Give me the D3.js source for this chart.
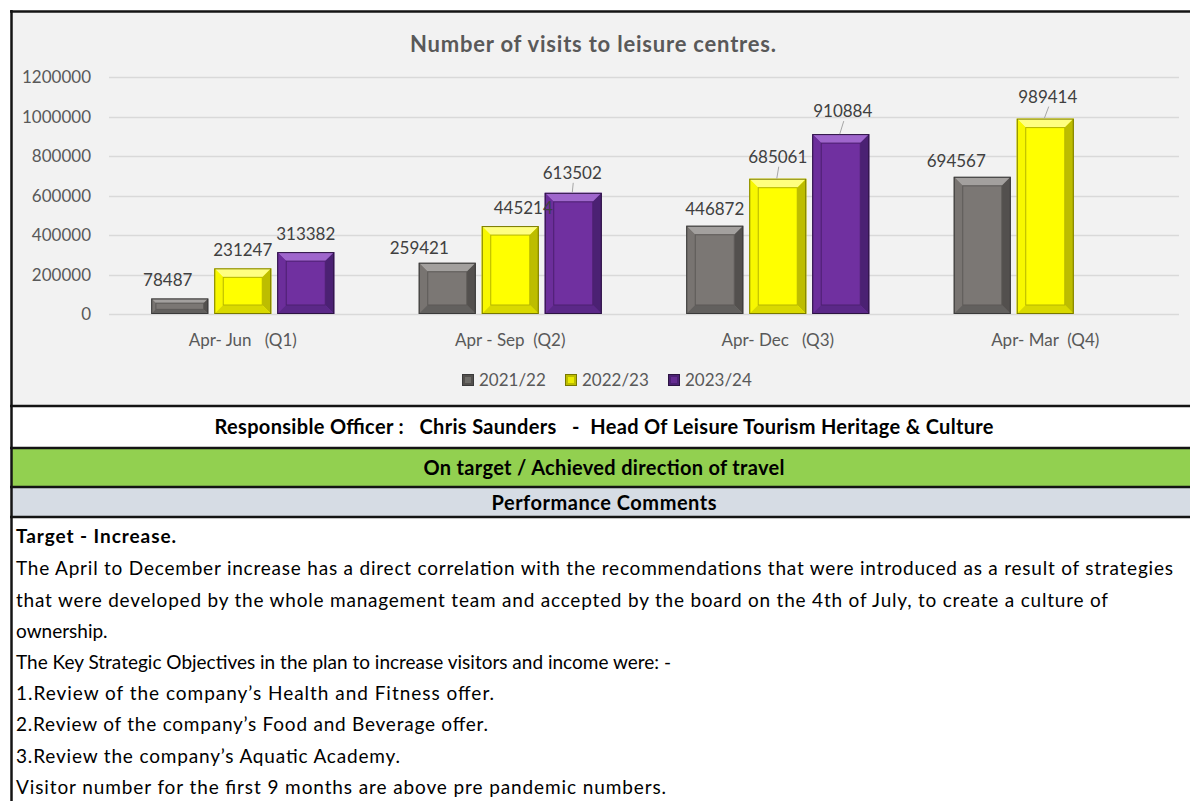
<!DOCTYPE html>
<html>
<head>
<meta charset="utf-8">
<script src="https://cdn.jsdelivr.net/npm/d3@7/dist/d3.min.js"></script>
<style>
  html, body { margin: 0; padding: 0; background: #ffffff; }
  svg { display: block; }
  text { font-family: Lato, "Noto Sans", sans-serif; white-space: pre; }
</style>
</head>
<body>
<svg id="chart" width="1190" height="801"></svg>
<script>
// ---------- data ----------
const title = "Number of visits to leisure centres.";
const categories = ["Apr- Jun   (Q1)", "Apr - Sep  (Q2)", "Apr- Dec   (Q3)", "Apr- Mar  (Q4)"];
const seriesNames = ["2021/22", "2022/23", "2023/24"];
const visits2021_22 = [78487, 259421, 446872, 694567];
const visits2022_23 = [231247, 445214, 685061, 989414];
const visits2023_24 = [313382, 613502, 910884, null];
const yTickValues = [0, 200000, 400000, 600000, 800000, 1000000, 1200000];

const officerText = "Responsible Officer :   Chris Saunders   -  Head Of Leisure Tourism Heritage & Culture";
const statusText = "On target / Achieved direction of travel";
const commentsHeader = "Performance Comments";
const commentLines = [
  "Target - Increase.",
  "The April to December increase has a direct correlation with the recommendations that were introduced as a result of strategies",
  "that were developed by the whole management team and accepted by the board on the 4th of July, to create a culture of",
  "ownership.",
  "The Key Strategic Objectives in the plan to increase visitors and income were: -",
  "1.Review of the company\u2019s Health and Fitness offer.",
  "2.Review of the company\u2019s Food and Beverage offer.",
  "3.Review the company\u2019s Aquatic Academy.",
  "Visitor number for the first 9 months are above pre pandemic numbers."
];

// ---------- styles / layout (not data) ----------
const seriesStyle = [
  {face:"#7b7774", light:"#a3a09e", left:"#787471", right:"#53504e", bottom:"#62605e", inner:"#5c5957", outline:"#3a3a3a"},
  {face:"#ffff00", light:"#ffff80", left:"#f8f800", right:"#bdbd00", bottom:"#d9d900", inner:"#b5b500", outline:"#787800"},
  {face:"#7030a0", light:"#9f66cc", left:"#6c2e9b", right:"#4b2173", bottom:"#5b2888", inner:"#4c2070", outline:"#2c1442"}
];
// manual label nudges [series][category] => [dx, dy, leader]
const labelNudge = [
  [[-12, 0, false], [-28, 3, false], [0, 1, false], [-26, 2, false]],
  [[0, 0, false], [13, 0, false], [0, -4, true], [2.5, -4, true]],
  [[0, 0, false], [-1, -2, true], [2, -5, true], [0, 0, false]]
];
const commentWidths = [160, 1157, 1092, 80, 639, 478, 472, 384, 650];

const svg = d3.select("#chart");
const W = 1190, H = 801;

// ---------- backgrounds ----------
svg.append("rect").attr("x", 12).attr("y", 12).attr("width", W - 12).attr("height", 394).attr("fill", "#f2f2f2");
svg.append("rect").attr("x", 12).attr("y", 406).attr("width", W - 12).attr("height", 42).attr("fill", "#ffffff");
svg.append("rect").attr("x", 12).attr("y", 448).attr("width", W - 12).attr("height", 39).attr("fill", "#92d050");
svg.append("rect").attr("x", 12).attr("y", 487).attr("width", W - 12).attr("height", 30).attr("fill", "#d6dce4");

// ---------- scales ----------
const plotLeft = 109, plotRight = 1179, plotTop = 77, plotBottom = 314;
const y = d3.scaleLinear().domain([0, 1200000]).range([plotBottom, plotTop]);
const x0 = d3.scaleBand().domain(categories).range([plotLeft, plotRight]).padding(0);
const x1 = d3.scaleBand().domain(seriesNames).range([42.25, 225.25]).paddingInner(0.095).paddingOuter(0);

// gridlines
svg.append("g").selectAll("line").data(yTickValues).join("line")
  .attr("x1", plotLeft).attr("x2", plotRight)
  .attr("y1", d => Math.round(y(d)) + 0.5).attr("y2", d => Math.round(y(d)) + 0.5)
  .attr("stroke", "#d9d9d9").attr("stroke-width", 1.3);

// y axis labels
const yAxis = d3.axisLeft(y).tickValues(yTickValues).tickSize(0).tickPadding(0).tickFormat(d3.format("d"));
const yG = svg.append("g").attr("transform", "translate(91,0)").call(yAxis);
yG.select(".domain").remove();
yG.selectAll("text").attr("fill", "#595959").attr("font-size", 17).attr("font-family", "Lato, sans-serif").attr("dy", "0.35em");

// x axis labels
const xAxis = d3.axisBottom(x0).tickSize(0).tickPadding(0);
const xG = svg.append("g").attr("transform", "translate(0,334)").call(xAxis);
xG.select(".domain").remove();
xG.selectAll("text").attr("fill", "#595959").attr("font-size", 17).attr("font-family", "Lato, sans-serif")
  .attr("dy", "0.71em").style("white-space", "pre");

// ---------- bars ----------
const allSeries = [visits2021_22, visits2022_23, visits2023_24];
const barData = [];
allSeries.forEach((vals, si) => {
  vals.forEach((v, ci) => {
    if (v == null) return;
    barData.push({si, ci, v, cat: categories[ci], ser: seriesNames[si]});
  });
});

const barsG = svg.append("g");
barData.forEach(d => {
  const st = seriesStyle[d.si];
  const bx = x0(d.cat) + x1(d.ser);
  const bw = x1.bandwidth();
  const by = y(d.v);
  const bh = y(0) - y(d.v);
  const b = Math.min(9, bh * 0.3);
  const g = barsG.append("g");
  const P = pts => pts.map(p => p.join(",")).join(" ");
  g.append("rect").attr("x", bx).attr("y", by).attr("width", bw).attr("height", bh).attr("fill", st.face);
  g.append("polygon").attr("points", P([[bx, by], [bx + bw, by], [bx + bw - b, by + b], [bx + b, by + b]])).attr("fill", st.light);
  g.append("polygon").attr("points", P([[bx, by], [bx + b, by + b], [bx + b, by + bh - b], [bx, by + bh]])).attr("fill", st.left);
  g.append("polygon").attr("points", P([[bx + bw, by], [bx + bw, by + bh], [bx + bw - b, by + bh - b], [bx + bw - b, by + b]])).attr("fill", st.right);
  g.append("polygon").attr("points", P([[bx, by + bh], [bx + b, by + bh - b], [bx + bw - b, by + bh - b], [bx + bw, by + bh]])).attr("fill", st.bottom);
  if (bh - 2 * b > 1) {
    g.append("rect").attr("x", bx + b).attr("y", by + b).attr("width", bw - 2 * b).attr("height", bh - 2 * b)
      .attr("fill", st.face).attr("stroke", st.inner).attr("stroke-width", 1);
  }
  g.append("rect").attr("x", bx + 0.5).attr("y", by + 0.5).attr("width", bw - 1).attr("height", bh - 1)
    .attr("fill", "none").attr("stroke", st.outline).attr("stroke-width", 1);

  // data label
  const nd = labelNudge[d.si][d.ci];
  const lx = bx + bw / 2 + nd[0];
  const lcy = by - 18 + nd[1];
  svg.append("text").attr("x", lx).attr("y", lcy).attr("dy", "0.35em").attr("text-anchor", "middle")
    .attr("font-size", 17).attr("fill", "#404040").text(d.v);
  if (nd[2]) {
    svg.append("line").attr("x1", lx + 1).attr("y1", lcy + 10).attr("x2", bx + bw / 2 - 1).attr("y2", by)
      .attr("stroke", "#a6a6a6").attr("stroke-width", 1);
  }
});

// ---------- title ----------
svg.append("text").attr("x", 593).attr("y", 44).attr("dy", "0.35em").attr("text-anchor", "middle")
  .attr("font-size", 22).attr("font-weight", "bold").attr("fill", "#595959")
  .attr("textLength", 366).attr("lengthAdjust", "spacing").text(title);

// ---------- legend ----------
const legendX = [462, 565, 668];
const legend = svg.append("g");
seriesNames.forEach((s, i) => {
  const st = seriesStyle[i];
  legend.append("rect").attr("x", legendX[i] + 0.5).attr("y", 374.5).attr("width", 11).attr("height", 11)
    .attr("fill", st.right).attr("stroke", st.outline).attr("stroke-width", 1);
  legend.append("rect").attr("x", legendX[i] + 3).attr("y", 377).attr("width", 6).attr("height", 6).attr("fill", st.face).attr("opacity", 0.7);
  legend.append("text").attr("x", legendX[i] + 17).attr("y", 380).attr("dy", "0.35em")
    .attr("font-size", 17).attr("fill", "#595959").text(s);
});

// ---------- table rows ----------
const headRows = [
  {t: officerText, y: 427, w: 779},
  {t: statusText, y: 468, w: 361},
  {t: commentsHeader, y: 503, w: 225}
];
headRows.forEach(r => {
  svg.append("text").attr("x", 604).attr("y", r.y).attr("dy", "0.35em").attr("text-anchor", "middle")
    .attr("font-size", 20).attr("font-weight", "bold").attr("fill", "#000")
    .attr("textLength", r.w).attr("lengthAdjust", "spacing").text(r.t);
});

const lineYs = [536, 568, 600, 631, 662, 693, 724, 756, 787];
commentLines.forEach((t, i) => {
  const el = svg.append("text").attr("x", 16).attr("y", lineYs[i]).attr("dy", "0.35em")
    .attr("font-size", 19).attr("font-weight", i === 0 ? "bold" : "normal").attr("fill", "#000").text(t);
  const natural = el.node().getComputedTextLength();
  if (commentWidths[i] && natural < commentWidths[i]) {
    el.attr("textLength", commentWidths[i]).attr("lengthAdjust", "spacing");
  }
});

// ---------- borders ----------
const bc = "#141414";
[11.5, 406, 448, 487, 517].forEach(yy => {
  svg.append("line").attr("x1", 10).attr("x2", W).attr("y1", yy).attr("y2", yy).attr("stroke", bc).attr("stroke-width", 2.5);
});
svg.append("line").attr("x1", 11.5).attr("x2", 11.5).attr("y1", 10).attr("y2", H).attr("stroke", bc).attr("stroke-width", 2.5);
</script>
</body>
</html>
